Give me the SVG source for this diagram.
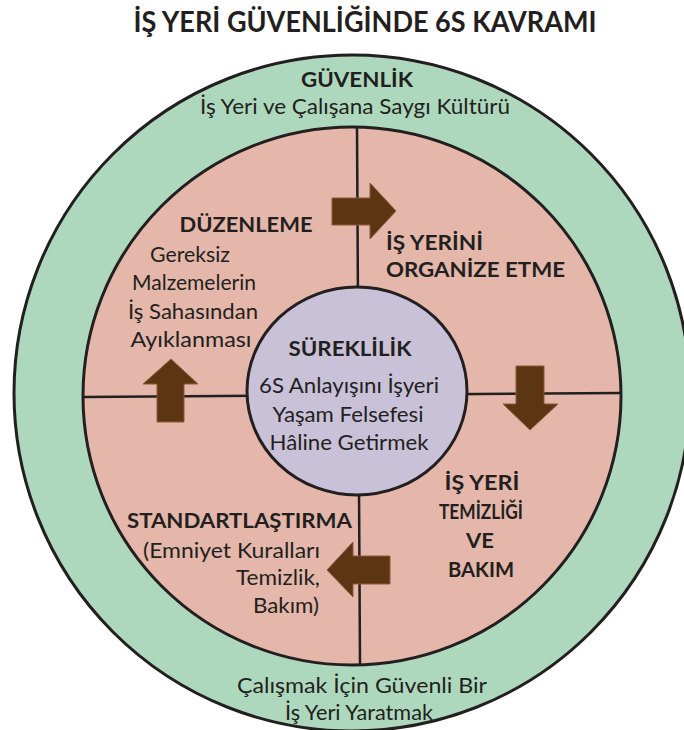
<svg xmlns="http://www.w3.org/2000/svg" width="684" height="730" viewBox="0 0 684 730">
  <style>
    text { font-family: Lato, "Open Sans", "Noto Sans", sans-serif; fill: #231f20; }
    .t { font-size: 28px; font-weight: 700; }
    .h { font-size: 21px; font-weight: 700; }
    .b { font-size: 21px; font-weight: 400; }
    .ring { stroke: #231f20; stroke-width: 3; }
    .div { stroke: #231f20; stroke-width: 2.5; fill: none; }
    .arrow { fill: #5c3512; stroke: #8b5a3c; stroke-width: 1; }
  </style>

  <rect width="684" height="730" fill="#ffffff"/>

  <text class="t" x="365" y="32" text-anchor="middle" textLength="463" lengthAdjust="spacingAndGlyphs">İŞ YERİ GÜVENLİĞİNDE 6S KAVRAMI</text>

  <!-- outer ring: safety -->
  <g id="guvenlik">
    <circle class="ring" cx="352" cy="393" r="338" fill="#aed8bd"/>
    <text class="h" x="357" y="87" text-anchor="middle" textLength="112" lengthAdjust="spacingAndGlyphs">GÜVENLİK</text>
    <text class="b" x="355" y="114" text-anchor="middle" textLength="310" lengthAdjust="spacingAndGlyphs">İş Yeri ve Çalışana Saygı Kültürü</text>
    <text class="b" x="362" y="693" text-anchor="middle" textLength="250" lengthAdjust="spacingAndGlyphs">Çalışmak İçin Güvenli Bir</text>
    <text class="b" x="359" y="720" text-anchor="middle" textLength="148" lengthAdjust="spacingAndGlyphs">İş Yeri Yaratmak</text>
  </g>

  <!-- inner disc split into four quadrants -->
  <g id="quadrants">
    <circle class="ring" cx="352" cy="396" r="269" fill="#e4b7aa" stroke-width="3.5"/>
    <line class="div" x1="357" y1="128" x2="360" y2="665"/>
    <line class="div" x1="83" y1="397" x2="621" y2="393"/>
  </g>

  <g id="duzenleme">
    <text class="h" x="246" y="232" text-anchor="middle" textLength="133" lengthAdjust="spacingAndGlyphs">DÜZENLEME</text>
    <text class="b" x="190" y="262" text-anchor="middle" textLength="80" lengthAdjust="spacingAndGlyphs">Gereksiz</text>
    <text class="b" x="194" y="290" text-anchor="middle" textLength="124" lengthAdjust="spacingAndGlyphs">Malzemelerin</text>
    <text class="b" x="193" y="319" text-anchor="middle" textLength="130" lengthAdjust="spacingAndGlyphs">İş Sahasından</text>
    <text class="b" x="191" y="347" text-anchor="middle" textLength="121" lengthAdjust="spacingAndGlyphs">Ayıklanması</text>
  </g>

  <g id="organize-etme">
    <text class="h" x="386" y="250" textLength="97" lengthAdjust="spacingAndGlyphs">İŞ YERİNİ</text>
    <text class="h" x="386" y="277" textLength="179" lengthAdjust="spacingAndGlyphs">ORGANİZE ETME</text>
  </g>

  <g id="temizlik-bakim">
    <text class="h" x="482" y="490" text-anchor="middle" textLength="75" lengthAdjust="spacingAndGlyphs">İŞ YERİ</text>
    <text class="h" x="481" y="519" text-anchor="middle" textLength="84" lengthAdjust="spacingAndGlyphs">TEMİZLİĞİ</text>
    <text class="h" x="480" y="548" text-anchor="middle" textLength="28" lengthAdjust="spacingAndGlyphs">VE</text>
    <text class="h" x="481" y="577" text-anchor="middle" textLength="66" lengthAdjust="spacingAndGlyphs">BAKIM</text>
  </g>

  <g id="standartlastirma">
    <text class="h" x="127" y="528" textLength="225" lengthAdjust="spacingAndGlyphs">STANDARTLAŞTIRMA</text>
    <text class="b" x="320" y="558" text-anchor="end" textLength="177" lengthAdjust="spacingAndGlyphs">(Emniyet Kuralları</text>
    <text class="b" x="320" y="585" text-anchor="end" textLength="84" lengthAdjust="spacingAndGlyphs">Temizlik,</text>
    <text class="b" x="319" y="613" text-anchor="end" textLength="66" lengthAdjust="spacingAndGlyphs">Bakım)</text>
  </g>

  <!-- centre: continuity -->
  <g id="sureklilik">
    <ellipse class="ring" cx="357" cy="391" rx="110" ry="104" fill="#c9c1d8"/>
    <text class="h" x="350" y="356" text-anchor="middle" textLength="123" lengthAdjust="spacingAndGlyphs">SÜREKLİLİK</text>
    <text class="b" x="349" y="393" text-anchor="middle" textLength="180" lengthAdjust="spacingAndGlyphs">6S Anlayışını İşyeri</text>
    <text class="b" x="348" y="422" text-anchor="middle" textLength="151" lengthAdjust="spacingAndGlyphs">Yaşam Felsefesi</text>
    <text class="b" x="349" y="450" text-anchor="middle" textLength="159" lengthAdjust="spacingAndGlyphs">Hâline Getirmek</text>
  </g>

  <!-- cycle arrows between the quadrants -->
  <g id="connectors">
    <polygon class="arrow" points="332,198 370,198 370,183 396,211 370,239 370,225 332,225"/>
    <polygon class="arrow" points="516,366 544,366 544,404 558,404 530,430 503,404 516,404"/>
    <polygon class="arrow" points="390,556 353,556 353,542 327,570 353,597 353,584 390,584"/>
    <polygon class="arrow" points="157,422 184,422 184,384 198,384 171,359 143,384 157,384"/>
  </g>
</svg>
